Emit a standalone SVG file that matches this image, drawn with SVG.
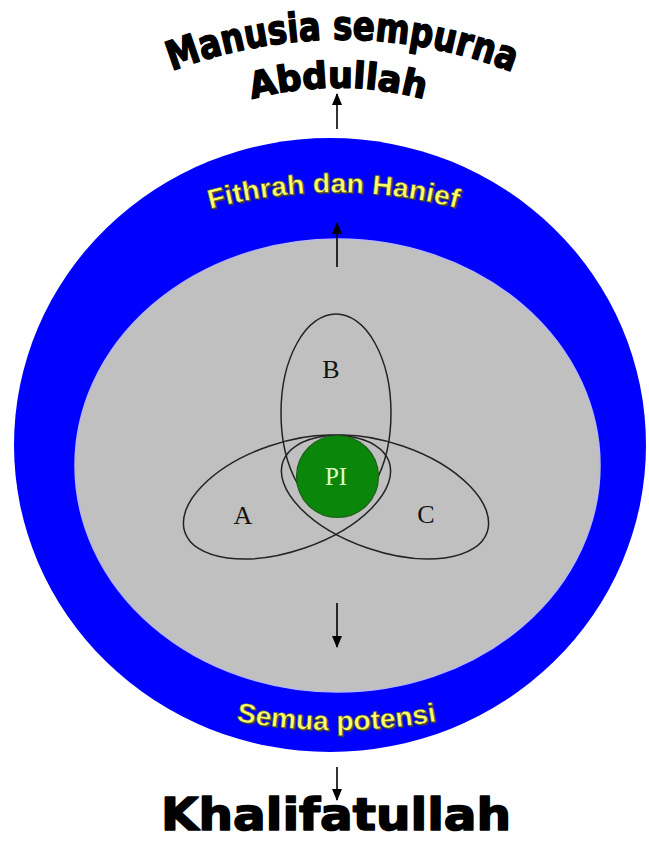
<svg xmlns="http://www.w3.org/2000/svg" xmlns:xlink="http://www.w3.org/1999/xlink" width="649" height="843" viewBox="0 0 649 843">
<style>
.heavy{font-family:"DejaVu Sans","Liberation Sans",sans-serif;font-weight:bold;fill:#000;stroke:#000;stroke-width:1.6;stroke-linejoin:round}
.ring{font-family:"Liberation Sans","Arial",sans-serif;font-weight:bold;font-size:27px}
.ringfg{fill:#ffff6e;stroke:#5a5a2a;stroke-width:0.6}
.ringsh{fill:#3a3a3a}
.lbl{font-family:"Liberation Serif","Times New Roman",serif;font-size:26px;fill:#111;text-anchor:middle}
.set{fill:none;stroke:#222;stroke-width:1.5}
.arr{stroke:#000;stroke-width:1.6;fill:none;marker-end:url(#ah)}
</style>
<defs>
<marker id="ah" markerUnits="userSpaceOnUse" markerWidth="12" markerHeight="14" refX="11" refY="5" orient="auto" viewBox="0 0 12 10">
<path d="M0,0 L12,5 L0,10 Z" fill="#000"/>
</marker>
<path id="pManusia" d="M 172 71 A 470 470 0 0 1 510 71"/>
<path id="pAbdullah" d="M 252 99 A 330 330 0 0 1 424 99"/>
<path id="pFithrah" d="M 210 209 A 480 480 0 0 1 460 209"/>
<path id="pFithrahSh" d="M 211.5 210.5 A 480 480 0 0 1 461.5 210.5"/>
<path id="pSemua" d="M 236 721 A 560 560 0 0 0 438 721"/>
<path id="pSemuaSh" d="M 237.5 722.5 A 560 560 0 0 0 439.5 722.5"/>
</defs>
<rect width="649" height="843" fill="#fff"/>

<g id="outer-ring">
<ellipse cx="330" cy="445" rx="316" ry="307" fill="#0000ff"/>
<text class="ring ringsh"><textPath xlink:href="#pFithrahSh" textLength="250" lengthAdjust="spacingAndGlyphs">Fithrah dan Hanief</textPath></text>
<text class="ring ringfg"><textPath xlink:href="#pFithrah" textLength="250" lengthAdjust="spacingAndGlyphs">Fithrah dan Hanief</textPath></text>
<text class="ring ringsh"><textPath xlink:href="#pSemuaSh" textLength="202" lengthAdjust="spacingAndGlyphs">Semua potensi</textPath></text>
<text class="ring ringfg"><textPath xlink:href="#pSemua" textLength="202" lengthAdjust="spacingAndGlyphs">Semua potensi</textPath></text>
</g>

<g id="inner-area">
<ellipse cx="337.5" cy="465.5" rx="262.5" ry="226.5" fill="#c0c0c0" stroke="#b8b8f0" stroke-width="1.5"/>
</g>

<g id="set-A">
<ellipse class="set" cx="287" cy="497" rx="108" ry="54" transform="rotate(-19 287 497)"/>
<text class="lbl" x="243" y="524">A</text>
</g>
<g id="set-C">
<ellipse class="set" cx="385" cy="497" rx="108" ry="54" transform="rotate(19 385 497)"/>
<text class="lbl" x="426" y="523">C</text>
</g>
<g id="set-B">
<ellipse class="set" cx="336" cy="413" rx="55" ry="99"/>
<text class="lbl" x="331" y="378">B</text>
</g>
<g id="PI">
<circle cx="337.5" cy="476.5" r="41" fill="#0a870a" stroke="#1d5e1d" stroke-width="1.2"/>
<text class="lbl" x="336" y="485" style="fill:#d8ffd0;font-size:25px">PI</text>
</g>

<g id="title-top">
<text class="heavy" font-size="40"><textPath xlink:href="#pManusia" textLength="348" lengthAdjust="spacingAndGlyphs">Manusia sempurna</textPath></text>
<text class="heavy" font-size="36"><textPath xlink:href="#pAbdullah" textLength="174" lengthAdjust="spacingAndGlyphs">Abdullah</textPath></text>
</g>

<g id="title-bottom">
<text class="heavy" x="161" y="830" font-size="44" textLength="350" lengthAdjust="spacingAndGlyphs">Khalifatullah</text>
</g>

<g id="connectors">
<line class="arr" x1="337" y1="129" x2="337" y2="94"/>
<line class="arr" x1="337" y1="267" x2="337" y2="223"/>
<line class="arr" x1="337" y1="603" x2="337" y2="647"/>
<line class="arr" x1="337" y1="767" x2="337" y2="800"/>
</g>
</svg>
